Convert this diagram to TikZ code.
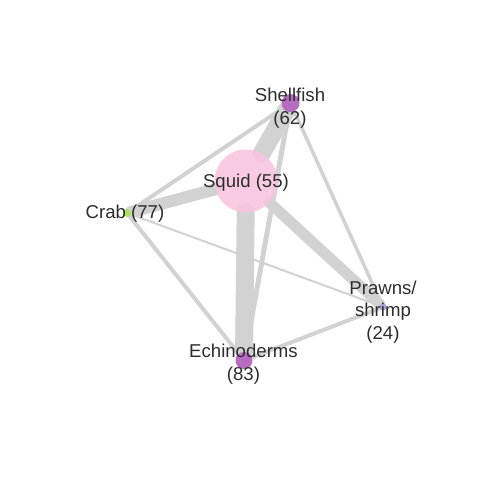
\documentclass[tikz,border=0pt]{standalone}
\usepackage{fontspec}
\setmainfont{Liberation Sans}
\definecolor{edgegray}{RGB}{210,210,210}
\definecolor{squidpink}{RGB}{248,196,224}
\definecolor{shellpurple}{RGB}{184,108,192}
\definecolor{crabgreen}{RGB}{170,226,92}
\definecolor{prawnlav}{RGB}{178,160,220}
\definecolor{txt}{RGB}{45,45,45}
\begin{document}
\begin{tikzpicture}[x=1pt,y=-1pt,
  vert/.style={circle,inner sep=0pt,draw=none},
  lab/.style={inner sep=0pt,align=center,text=txt,font=\fontsize{18.6}{22.5}\selectfont},
  edge/.style={draw=edgegray,line cap=round}]
\useasboundingbox[fill=white] (0,0) rectangle (480,480);
% vertices (positions)
\node[vert,minimum size=63pt] (sq) at (246,181) {};
\node[vert,minimum size=18pt] (sh) at (290.5,103) {};
\node[vert,minimum size=8pt] (cr) at (127,213) {};
\node[vert,minimum size=7pt] (pr) at (383,307) {};
\node[vert,minimum size=17pt] (ec) at (244,360.5) {};
% edges
\draw[edge,line width=2pt] (cr) -- (pr);
\draw[edge,line width=3.5pt] (sh) -- (pr);
\draw[edge,line width=4pt] (cr) -- (ec);
\draw[edge,line width=4pt] (ec) -- (pr);
\draw[edge,line width=4pt] (sh) -- (cr);
\draw[edge,line width=5pt] (sh) -- (ec);
\draw[edge,line width=11pt] (sq) -- (pr);
\draw[edge,line width=12pt] (sq) -- (cr);
\draw[edge,line width=18pt] (sq) -- (sh);
\draw[edge,line width=18pt] (sq) -- (ec);
% vertex fills
\fill[squidpink,fill opacity=0.88] (sq.center) circle (31.5pt);
\fill[shellpurple] (sh.center) circle (9pt);
\fill[crabgreen] (cr.center) circle (4pt);
\fill[prawnlav] (pr.center) circle (3.5pt);
\fill[shellpurple] (ec.center) circle (8.5pt);
% labels
\node[lab] (sqL) at (246,183) {Squid (55)};
\node[lab] (shL) at (290,108) {Shellfish\\(62)};
\node[lab] (crL) at (125,214) {Crab (77)};
\node[lab] (prL) at (383,312) {Prawns/\\shrimp\\(24)};
\node[lab] (ecL) at (243.5,364) {Echinoderms\\(83)};
\end{tikzpicture}
\end{document}
